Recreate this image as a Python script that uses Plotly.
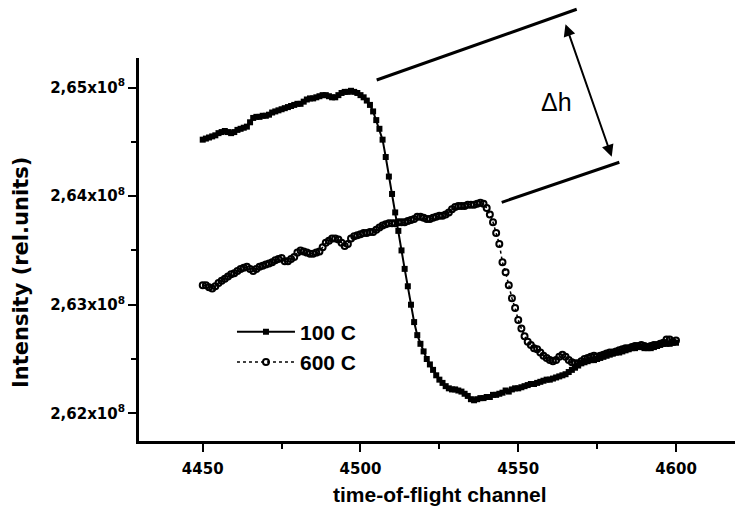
import plotly.graph_objects as go

# time-of-flight channels (one per channel)
channels = list(range(4450, 4601))

# Intensity in units of 1e8 (rel. units)
intensity_100C = [
    2.6452, 2.6453, 2.6454, 2.6455, 2.6456, 2.6458, 2.6459, 2.6460, 2.6459, 2.6458,
    2.6459, 2.6461, 2.6462, 2.6463, 2.6464, 2.6468, 2.6472, 2.6473, 2.6473, 2.6474,
    2.6474, 2.6475, 2.6477, 2.6478, 2.6479, 2.6480, 2.6481, 2.6482, 2.6483, 2.6484,
    2.6485, 2.6485, 2.6487, 2.6489, 2.6490, 2.6490, 2.6491, 2.6492, 2.6493, 2.6493,
    2.6492, 2.6491, 2.6491, 2.6493, 2.6495, 2.6496, 2.6496, 2.6497, 2.6496, 2.6495,
    2.6493, 2.6491, 2.6488, 2.6484, 2.6478, 2.6470, 2.6462, 2.6452, 2.6436, 2.6418,
    2.6402, 2.6385, 2.6368, 2.6350, 2.6333, 2.6317, 2.6300, 2.6284, 2.6272, 2.6264,
    2.6257, 2.6250, 2.6245, 2.6240, 2.6235, 2.6231, 2.6228, 2.6225, 2.6223, 2.6222,
    2.6222, 2.6221, 2.6220, 2.6218, 2.6216, 2.6213, 2.6212, 2.6213, 2.6214, 2.6214,
    2.6215, 2.6215, 2.6217, 2.6217, 2.6218, 2.6219, 2.6221, 2.6220, 2.6222, 2.6223,
    2.6223, 2.6224, 2.6225, 2.6226, 2.6227, 2.6227, 2.6228, 2.6229, 2.6230, 2.6231,
    2.6231, 2.6232, 2.6233, 2.6234, 2.6235, 2.6236, 2.6238, 2.6240, 2.6242, 2.6244,
    2.6246, 2.6247, 2.6248, 2.6249, 2.6249, 2.6250, 2.6251, 2.6252, 2.6253, 2.6254,
    2.6255, 2.6256, 2.6256, 2.6257, 2.6258, 2.6259, 2.6260, 2.6260, 2.6261, 2.6261,
    2.6260, 2.6260, 2.6260, 2.6261, 2.6262, 2.6263, 2.6264, 2.6264, 2.6264, 2.6265,
    2.6265,
]

intensity_600C = [
    2.6318, 2.6318, 2.6316, 2.6315, 2.6317, 2.6320, 2.6322, 2.6324, 2.6326, 2.6328,
    2.6329, 2.6331, 2.6333, 2.6334, 2.6335, 2.6333, 2.6331, 2.6333, 2.6335, 2.6336,
    2.6337, 2.6338, 2.6339, 2.6341, 2.6342, 2.6343, 2.6340, 2.6340, 2.6342, 2.6344,
    2.6348, 2.6350, 2.6349, 2.6348, 2.6347, 2.6347, 2.6348, 2.6349, 2.6353, 2.6357,
    2.6359, 2.6361, 2.6361, 2.6360, 2.6357, 2.6354, 2.6356, 2.6361, 2.6363, 2.6364,
    2.6365, 2.6366, 2.6366, 2.6367, 2.6367, 2.6369, 2.6371, 2.6373, 2.6374, 2.6375,
    2.6375, 2.6375, 2.6376, 2.6376, 2.6376, 2.6377, 2.6378, 2.6379, 2.6381, 2.6381,
    2.6380, 2.6379, 2.6379, 2.6380, 2.6381, 2.6382, 2.6382, 2.6383, 2.6385, 2.6388,
    2.6390, 2.6391, 2.6391, 2.6391, 2.6392, 2.6392, 2.6392, 2.6393, 2.6394, 2.6393,
    2.6389, 2.6383, 2.6376, 2.6366, 2.6356, 2.6339, 2.6330, 2.6318, 2.6306, 2.6297,
    2.6286, 2.6278, 2.6271, 2.6266, 2.6263, 2.6260, 2.6259, 2.6256, 2.6253, 2.6251,
    2.6249, 2.6248, 2.6249, 2.6252, 2.6254, 2.6252, 2.6249, 2.6247, 2.6246, 2.6246,
    2.6248, 2.6250, 2.6251, 2.6252, 2.6253, 2.6252, 2.6253, 2.6254, 2.6255, 2.6256,
    2.6256, 2.6257, 2.6258, 2.6259, 2.6260, 2.6260, 2.6261, 2.6262, 2.6262, 2.6263,
    2.6262, 2.6261, 2.6262, 2.6263, 2.6263, 2.6264, 2.6265, 2.6268, 2.6268, 2.6266,
    2.6267,
]

series_names = ["100 C", "600 C"]
x_ticks = [4450, 4500, 4550, 4600]
y_ticks = [2.62, 2.63, 2.64, 2.65]
y_tick_labels = ["2,62x10<sup>8</sup>", "2,63x10<sup>8</sup>",
                 "2,64x10<sup>8</sup>", "2,65x10<sup>8</sup>"]

fig = go.Figure()
fig.add_trace(go.Scatter(
    x=channels, y=intensity_100C, name=series_names[0], mode="lines+markers",
    line=dict(color="black", width=2),
    marker=dict(symbol="square", size=6, color="black"),
))
fig.add_trace(go.Scatter(
    x=channels, y=intensity_600C, name=series_names[1], mode="lines+markers",
    line=dict(color="black", width=1.5, dash="dot"),
    marker=dict(symbol="circle-open", size=6, color="black", line=dict(width=2, color="black")),
))

tickfont = dict(family="DejaVu Sans", size=15, color="black", weight="bold")

fig.update_layout(
    width=735, height=513,
    margin=dict(l=139, r=0, t=58, b=72),
    paper_bgcolor="white", plot_bgcolor="white",
    showlegend=True,
    legend=dict(x=0.156, y=0.338, xanchor="left", yanchor="top",
                font=dict(family="Liberation Sans", size=21, color="black", weight="bold"),
                bgcolor="rgba(0,0,0,0)", itemwidth=58, tracegroupgap=0),
    xaxis=dict(range=[4429.8, 4618.7], tickvals=x_ticks, ticks="outside", ticklen=8, tickwidth=2,
               showline=True, linewidth=3, linecolor="black", showgrid=False, zeroline=False,
               tickfont=tickfont, tickcolor="black", ticklabelstandoff=4, automargin=False,
               minor=dict(dtick=25, tick0=4450, ticks="outside", ticklen=5, tickwidth=2,
                          tickcolor="black", showgrid=False)),
    yaxis=dict(range=[2.61745, 2.65272], tickvals=y_ticks, ticktext=y_tick_labels,
               ticks="outside", ticklen=8, tickwidth=2,
               showline=True, linewidth=3, linecolor="black", showgrid=False, zeroline=False,
               tickfont=tickfont, tickcolor="black", automargin=False,
               minor=dict(dtick=0.005, tick0=2.62, ticks="outside", ticklen=5, tickwidth=2,
                          tickcolor="black", showgrid=False)),
)

# axis titles
fig.add_annotation(text="time-of-flight channel", xref="paper", yref="paper",
                   x=0.505, y=-0.14, xanchor="center", yanchor="middle", showarrow=False,
                   font=dict(family="Liberation Sans", size=21, color="black", weight="bold"))
fig.add_annotation(text="Intensity (rel.units)", xref="paper", yref="paper",
                   x=-0.197, y=0.44, xanchor="center", yanchor="middle", showarrow=False,
                   textangle=-90,
                   font=dict(family="DejaVu Sans", size=21, color="black", weight="bold"))

# Δh construction lines
fig.add_shape(type="line", xref="paper", yref="paper", x0=0.3988, y0=0.9426, x1=0.7344, y1=1.1272,
              line=dict(color="black", width=3))
fig.add_shape(type="line", xref="paper", yref="paper", x0=0.6086, y0=0.6232, x1=0.8059, y1=0.7277,
              line=dict(color="black", width=3))
fig.add_annotation(text="", xref="paper", yref="paper", x=0.7931, y=0.7423,
                   ax=-46.7, ay=-134, showarrow=True, arrowside="end+start",
                   arrowhead=2, startarrowhead=2, arrowsize=1.2, startarrowsize=1.2,
                   arrowwidth=2, arrowcolor="black")
fig.add_annotation(text="Δh", xref="paper", yref="paper", x=0.6997, y=0.8859,
                   xanchor="center", yanchor="middle", showarrow=False,
                   font=dict(family="Liberation Sans", size=25, color="black"))

fig.write_html("out.html", config={"displayModeBar": False},
               post_script="document.body.style.margin='0';document.body.style.overflow='hidden';")
